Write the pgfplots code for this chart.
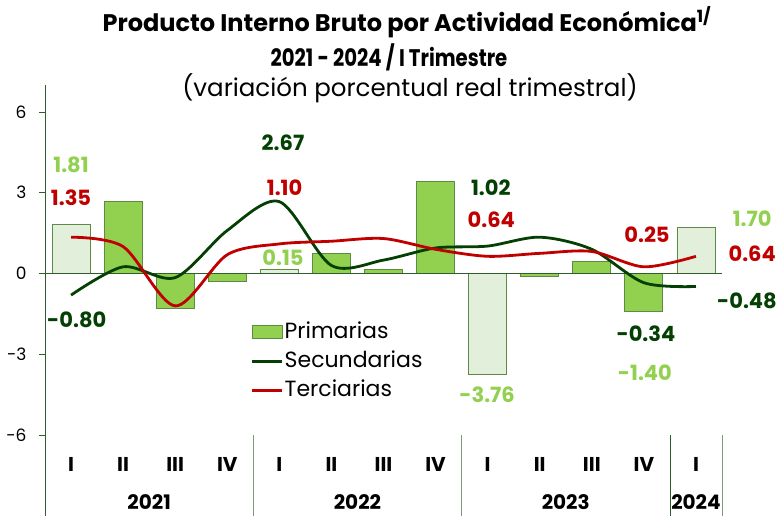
\documentclass[border=0pt]{standalone}
\usepackage{fontspec}
\setmainfont{Poppins}
\newfontfamily\titlefont{Poppins}
\newfontfamily\titlefontb[FakeStretch=0.82]{Poppins}
\usepackage{pgfplots}
\pgfplotsset{compat=1.18}
\definecolor{barmain}{HTML}{92D050}
\definecolor{barlight}{HTML}{E2EFDA}
\definecolor{barborder}{HTML}{5E8A46}
\definecolor{secgreen}{HTML}{043F04}
\definecolor{terred}{HTML}{C00000}
\definecolor{lightlab}{HTML}{92D050}
\definecolor{axisgreen}{HTML}{2E5E2E}
\definecolor{sepgreen}{HTML}{7A9A7A}
\pgfplotstableread{
x prim
1 2.68
2 -1.30
3 -0.30
5 0.75
6 0.15
7 3.42
9 -0.10
10 0.45
11 -1.40
}\primmain
\pgfplotstableread{
x prim
0 1.81
4 0.15
8 -3.76
12 1.70
}\primlight
\pgfplotstableread{
x sec ter
0 -0.80 1.35
1 0.25 1.00
2 -0.15 -1.20
3 1.60 0.70
4 2.67 1.10
5 0.30 1.20
6 0.50 1.30
7 0.95 0.90
8 1.02 0.64
9 1.35 0.75
10 0.90 0.82
11 -0.34 0.25
12 -0.48 0.64
}\linedata
\begin{document}
\begin{tikzpicture}
\tikzset{lab/.style={font=\bfseries\fontsize{21}{21}\selectfont, inner sep=0pt},
  ql/.style={font=\bfseries\fontsize{20}{20}\selectfont},
  yl/.style={font=\bfseries\fontsize{20}{20}\selectfont, inner sep=0pt}}
\begin{axis}[
  scale only axis, width=677pt, height=431pt,
  xmin=-0.5, xmax=12.5, ymin=-9, ymax=7,
  axis x line=none, axis y line*=left,
  clip=false,
  ytick={-6,-3,0,3,6}, yticklabels={-6,-3,0,3,6},
  tick align=outside, major tick length=6pt,
  y axis line style={draw=axisgreen, line width=0.8pt},
  ytick style={draw=axisgreen, line width=0.8pt},
  yticklabel style={font=\fontsize{17}{17}\selectfont, text=black, xshift=-9pt},
  legend style={at={(axis cs:3.45,-1.8)}, anchor=north west, draw=none, fill=none,
    font=\fontsize{22}{22}\selectfont, row sep=8pt, inner sep=0pt,
    nodes={inner sep=1pt, text height=15pt, text depth=4pt}},
  legend cell align=left,
]
\addplot[ybar, bar width=38pt, bar shift=0pt, fill=barmain, draw=barborder, line width=0.8pt,
  legend image code/.code={\draw[fill=barmain, draw=barborder, line width=0.8pt] (0pt,-6pt) rectangle (30pt,7pt);}]
  table[x=x,y=prim] {\primmain};
\addlegendentry{Primarias}
\addplot[ybar, bar width=38pt, bar shift=0pt, fill=barlight, draw=barborder, line width=0.8pt, forget plot]
  table[x=x,y=prim] {\primlight};
\addplot[forget plot, axisgreen, line width=0.8pt] coordinates {(-0.5,0) (12.5,0)};
\addplot[smooth, tension=0.5, line width=2.8pt, color=secgreen,
  legend image code/.code={\draw[secgreen, line width=2.8pt] (0pt,0pt) -- (30pt,0pt);}]
  table[x=x,y=sec] {\linedata};
\addlegendentry{Secundarias}
\addplot[smooth, tension=0.5, line width=2.8pt, color=terred,
  legend image code/.code={\draw[terred, line width=2.8pt] (0pt,0pt) -- (30pt,0pt);}]
  table[x=x,y=ter] {\linedata};
\addlegendentry{Terciarias}
% separators
\draw[sepgreen, line width=0.8pt] (axis cs:3.5,-6) -- (axis cs:3.5,-9);
\draw[sepgreen, line width=0.8pt] (axis cs:7.5,-6) -- (axis cs:7.5,-9);
\draw[axisgreen, line width=0.8pt] (axis cs:11.5,-6) -- (axis cs:11.5,-9);
\draw[sepgreen, line width=0.8pt] (axis cs:12.5,-6) -- (axis cs:12.5,-9);
% quarter labels
\node[ql] at (axis cs:0,-7.1) {I};
\node[ql] at (axis cs:1,-7.1) {II};
\node[ql] at (axis cs:2,-7.1) {III};
\node[ql] at (axis cs:3,-7.1) {IV};
\node[ql] at (axis cs:4,-7.1) {I};
\node[ql] at (axis cs:5,-7.1) {II};
\node[ql] at (axis cs:6,-7.1) {III};
\node[ql] at (axis cs:7,-7.1) {IV};
\node[ql] at (axis cs:8,-7.1) {I};
\node[ql] at (axis cs:9,-7.1) {II};
\node[ql] at (axis cs:10,-7.1) {III};
\node[ql] at (axis cs:11,-7.1) {IV};
\node[ql] at (axis cs:12,-7.1) {I};
\node[yl] at (axis cs:1.5,-8.48) {2021};
\node[yl] at (axis cs:5.5,-8.48) {2022};
\node[yl] at (axis cs:9.5,-8.48) {2023};
\node[yl] at (axis cs:12,-8.48) {2024};
% data labels
\node[lab, text=lightlab] at (axis cs:0,4.05) {1.81};
\node[lab, text=terred] at (axis cs:0,2.83) {1.35};
\node[lab, text=secgreen] at (axis cs:0.11,-1.71) {-0.80};
\node[lab, text=secgreen] at (axis cs:4.07,4.87) {2.67};
\node[lab, text=terred] at (axis cs:4.1,3.2) {1.10};
\node[lab, text=lightlab] at (axis cs:4.07,0.6) {0.15};
\node[lab, text=secgreen] at (axis cs:8.06,3.2) {1.02};
\node[lab, text=terred] at (axis cs:8.07,2.0) {0.64};
\node[lab, text=lightlab] at (axis cs:7.99,-4.5) {-3.76};
\node[lab, text=terred] at (axis cs:11.06,1.45) {0.25};
\node[lab, text=secgreen] at (axis cs:11.04,-2.23) {-0.34};
\node[lab, text=lightlab] at (axis cs:11.02,-3.68) {-1.40};
\node[lab, text=lightlab] at (axis cs:13.08,2.04) {1.70};
\node[lab, text=terred] at (axis cs:13.08,0.74) {0.64};
\node[lab, text=secgreen] at (axis cs:12.98,-1.0) {-0.48};
\end{axis}
\node[anchor=base, font=\titlefont\bfseries\fontsize{24}{24}\selectfont] at (362pt,484pt) {Producto Interno Bruto por Actividad Económica\textsuperscript{1/}};
\node[anchor=base, font=\titlefontb\bfseries\fontsize{24}{24}\selectfont] at (344pt,449pt) {2021 - 2024 / I Trimestre};
\node[anchor=base, font=\fontsize{24.5}{24.5}\selectfont] at (365pt,419pt) {(variación porcentual real trimestral)};
\pgfresetboundingbox
\path[use as bounding box] (-45pt,0pt) rectangle (733pt,516pt);
\end{tikzpicture}
\end{document}
